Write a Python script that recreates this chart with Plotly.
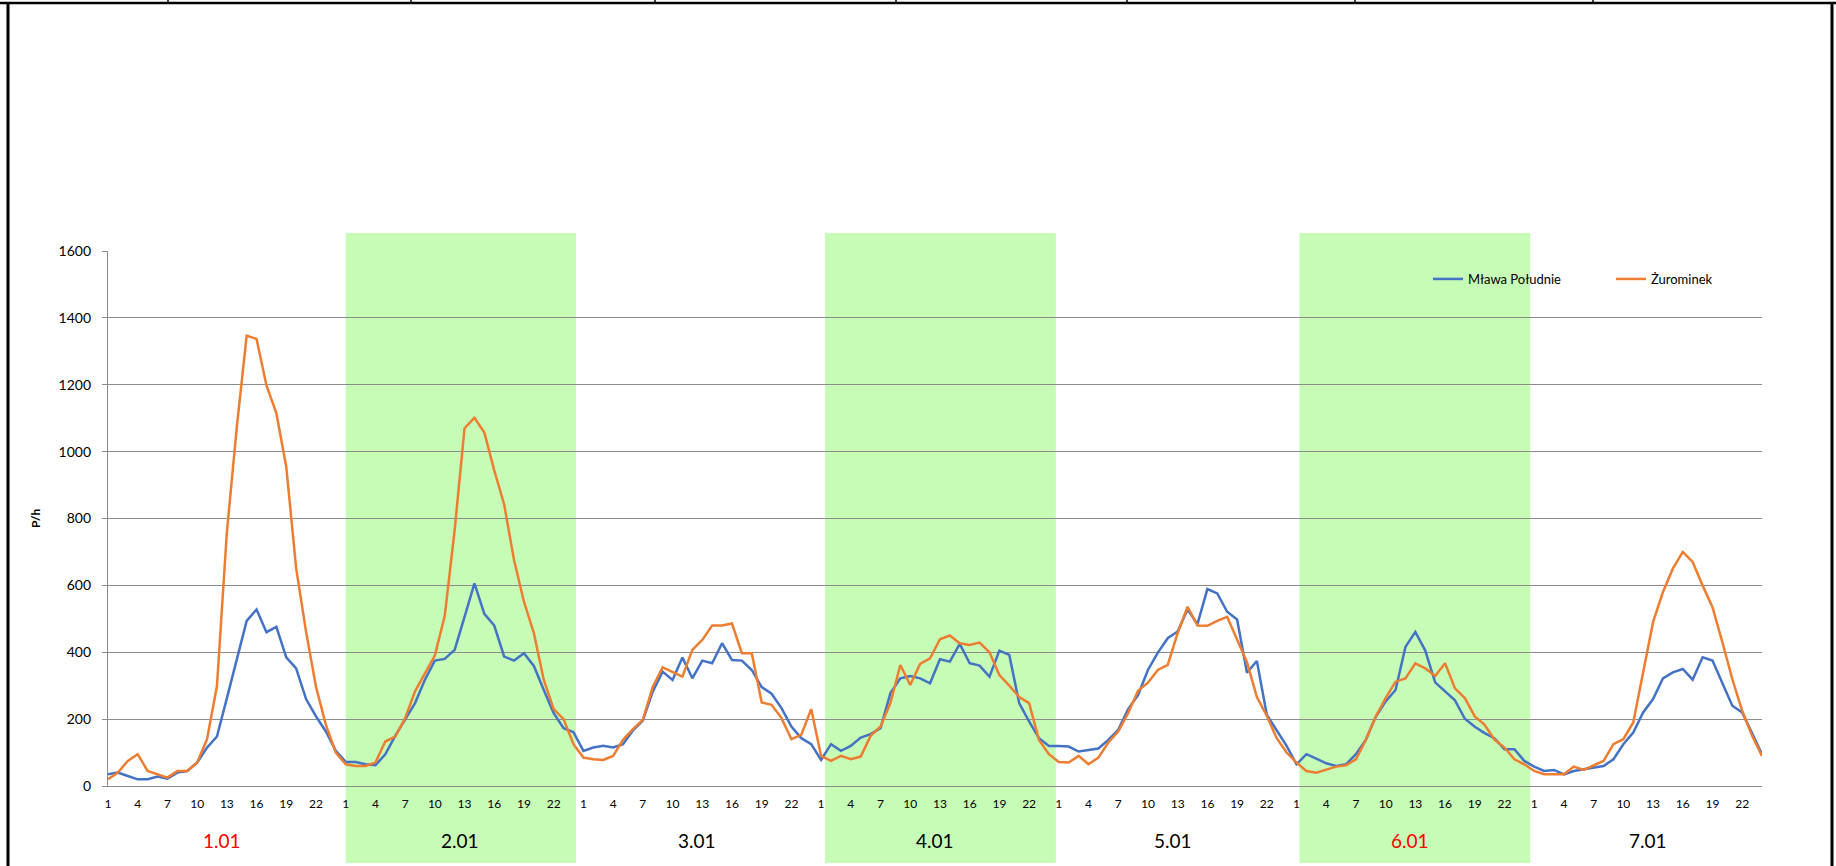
import plotly.graph_objects as go

# ---------------- data ----------------
days = ["1.01", "2.01", "3.01", "4.01", "5.01", "6.01", "7.01"]
day_label_colors = ["#FF0000", "#000000", "#000000", "#000000", "#000000", "#FF0000", "#000000"]
green_days = ["2.01", "4.01", "6.01"]
hours = list(range(1, 25))
hour_ticks = [1, 4, 7, 10, 13, 16, 19, 22]

mlawa = [
    # 1.01
    35, 40, 30, 20, 20, 28, 22, 40, 45, 70, 115, 148, 262, 377, 494, 528, 460, 476, 385, 352, 260, 208, 163, 105,
    # 2.01
    72, 72, 65, 62, 95, 150, 199, 248, 318, 375, 380, 407, 506, 606, 515, 480, 387, 375, 397, 359, 287, 218, 173, 161,
    # 3.01
    105, 115, 120, 115, 125, 166, 196, 282, 342, 317, 384, 322, 375, 367, 427, 377, 375, 347, 296, 276, 233, 178, 143, 125,
    # 4.01
    78, 125, 105, 120, 145, 155, 173, 278, 322, 329, 322, 307, 379, 372, 425, 367, 360, 327, 405, 392, 248, 193, 143, 120,
    # 5.01
    120, 118, 103, 108, 112, 138, 168, 230, 272, 347, 399, 442, 462, 528, 484, 589, 576, 521, 498, 339, 374, 213, 168, 120,
    # 6.01
    65, 95, 82, 68, 60, 65, 95, 138, 207, 253, 287, 416, 461, 405, 310, 283, 256, 201, 177, 158, 142, 110, 110, 75,
    # 7.01
    58, 45, 48, 35, 45, 50, 55, 60, 80, 125, 160, 220, 260, 322, 340, 350, 318, 385, 375, 310, 240, 220, 155, 95,
]

zurominek = [
    # 1.01
    20, 40, 75, 95, 45, 35, 25, 45, 45, 70, 140, 299, 758, 1072, 1347, 1337, 1198, 1115, 954, 651, 461, 297, 183, 100,
    # 2.01
    65, 60, 60, 70, 133, 148, 203, 283, 337, 390, 508, 765, 1070, 1101, 1057, 944, 842, 675, 551, 457, 317, 230, 200, 125,
    # 3.01
    85, 80, 78, 90, 138, 170, 198, 296, 355, 342, 327, 407, 437, 480, 480, 486, 397, 397, 250, 243, 203, 140, 153, 230,
    # 4.01
    90, 75, 90, 80, 88, 150, 178, 248, 362, 302, 365, 382, 439, 450, 427, 422, 429, 400, 332, 300, 266, 248, 138, 95,
    # 5.01
    72, 70, 90, 65, 85, 130, 163, 218, 285, 309, 347, 362, 457, 536, 480, 479, 494, 506, 437, 370, 266, 210, 143, 100,
    # 6.01
    70, 45, 40, 50, 58, 62, 80, 138, 208, 263, 312, 322, 367, 352, 329, 367, 292, 263, 208, 183, 138, 115, 80, 65,
    # 7.01
    45, 35, 35, 35, 58, 48, 62, 75, 125, 140, 190, 340, 490, 580, 650, 700, 670, 600, 535, 430, 320, 225, 150, 90,
]

series_names = ["Mława Południe", "Żurominek"]
y_ticks = [0, 200, 400, 600, 800, 1000, 1200, 1400, 1600]

# ---------------- layout geometry (pixels) ----------------
W, H = 1836, 866
L, R, T, B = 108, 74, 251, 80
PW, PH = W - L - R, H - T - B
FONT = "Lato, 'Open Sans', sans-serif"
BLUE, ORANGE, GREEN, GRID = "#4472C4", "#ED7D31", "#C7FCB6", "#8C8C8C"
# hand-placed band offsets (in hours from the day start) for the green highlights
BAND_OFFSETS = {"2.01": (0.0, 23.25), "4.01": (0.4, 23.7), "6.01": (0.3, 23.6)}


def px_x(px):
    return (px - L) / PW


def px_y(py):
    return (H - B - py) / PH


n_h = len(hours)
x_idx = [d * n_h + (h - 1) for d in range(len(days)) for h in hours]

fig = go.Figure()
fig.add_trace(go.Scatter(x=x_idx, y=mlawa, mode="lines", name=series_names[0], showlegend=True,
                         line=dict(color=BLUE, width=2.5), legend="legend"))
fig.add_trace(go.Scatter(x=x_idx, y=zurominek, mode="lines", name=series_names[1], showlegend=True,
                         line=dict(color=ORANGE, width=2.5), legend="legend2"))

shapes = []
# green day bands
for d, name in enumerate(days):
    if name in green_days:
        o0, o1 = BAND_OFFSETS[name]
        shapes.append(dict(type="rect", xref="x", yref="paper",
                           x0=d * n_h + o0, x1=d * n_h + o1,
                           y0=px_y(863), y1=px_y(233),
                           fillcolor=GREEN, line=dict(width=0), layer="below"))
# frame (table borders)
shapes.append(dict(type="line", xref="paper", yref="paper", x0=px_x(0), x1=px_x(W),
                   y0=px_y(3), y1=px_y(3), line=dict(color="black", width=2.5)))
shapes.append(dict(type="line", xref="paper", yref="paper", x0=px_x(8), x1=px_x(8),
                   y0=px_y(2), y1=px_y(H + 5), line=dict(color="black", width=3)))
shapes.append(dict(type="line", xref="paper", yref="paper", x0=px_x(1832), x1=px_x(1832),
                   y0=px_y(2), y1=px_y(H + 5), line=dict(color="black", width=3)))
for vx in [168, 411, 655, 896, 1127, 1355, 1593]:
    shapes.append(dict(type="line", xref="paper", yref="paper", x0=px_x(vx), x1=px_x(vx),
                       y0=px_y(0), y1=px_y(3), line=dict(color="black", width=1.5)))

annotations = []
for d, (name, col) in enumerate(zip(days, day_label_colors)):
    annotations.append(dict(x=d * n_h + (n_h - 1) / 2, xref="x", y=px_y(840), yref="paper",
                            text=name, showarrow=False, font=dict(size=19, color=col, family=FONT),
                            xanchor="center", yanchor="middle"))
annotations.append(dict(x=px_x(35), xref="paper", y=px_y(519), yref="paper", text="<b>P/h</b>",
                        textangle=-90, showarrow=False, font=dict(size=12, color="#000", family=FONT),
                        xanchor="center", yanchor="middle"))

tickvals = [d * n_h + (h - 1) for d in range(len(days)) for h in hour_ticks]
ticktext = [str(h) for d in range(len(days)) for h in hour_ticks]

legend_common = dict(orientation="h", yanchor="middle", xanchor="left", y=px_y(279),
                     bgcolor="rgba(0,0,0,0)", font=dict(size=13, color="#000", family=FONT),
                     itemwidth=30, visible=True)

fig.update_layout(
    width=W, height=H, autosize=False, showlegend=True,
    margin=dict(l=L, r=R, t=T, b=B, pad=0),
    paper_bgcolor="white", plot_bgcolor="rgba(0,0,0,0)",
    font=dict(family=FONT, color="#000"),
    shapes=shapes, annotations=annotations,
    legend=dict(x=px_x(1428), **legend_common),
    legend2=dict(x=px_x(1611), **legend_common),
    xaxis=dict(range=[0, len(x_idx) - 1], tickmode="array", tickvals=tickvals, ticktext=ticktext,
               showgrid=False, zeroline=False, showline=True, linecolor=GRID, linewidth=1.3,
               ticks="", tickfont=dict(size=12, color="#000", family=FONT), ticklabelstandoff=6),
    yaxis=dict(range=[0, 1600], tickmode="array", tickvals=y_ticks,
               showgrid=True, gridcolor=GRID, gridwidth=1.3, zeroline=False,
               showline=True, linecolor=GRID, linewidth=1.3,
               ticks="outside", ticklen=5, tickcolor=GRID,
               tickfont=dict(size=14, color="#000", family=FONT), ticklabelstandoff=8),
)

fig.write_html("out.html", config={"displayModeBar": False},
               post_script="document.body.style.margin='0';document.body.style.overflow='hidden';")
